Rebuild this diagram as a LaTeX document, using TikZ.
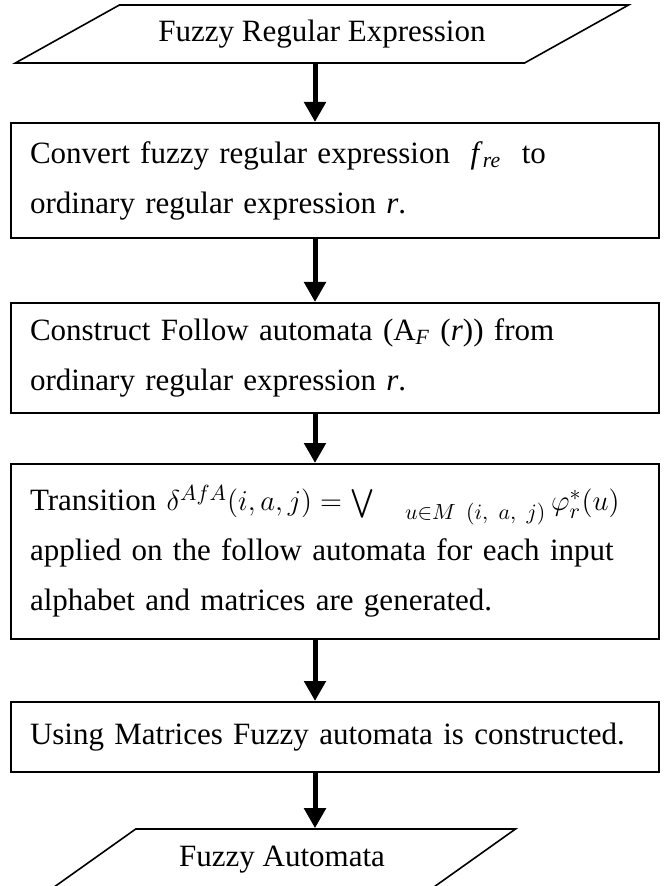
\documentclass[tikz,border=0pt]{standalone}
\usepackage{amsmath}
\usepackage{fontspec}
\setmainfont{Liberation Serif}
\usepackage{tikz}
\usetikzlibrary{positioning, shapes.geometric, arrows.meta}
\tikzstyle{io} = [trapezium, trapezium stretches=true, text centered, draw=black, line width=0.8pt]
\tikzstyle{process} = [rectangle, minimum width=324pt, text width=305pt, inner xsep=9.5pt, align=left, draw=black, line width=1pt]
\tikzstyle{arrow} = [-{Triangle[width=10.5pt,length=10pt]}, line width=2.5pt]
\tikzstyle{every node}=[font=\fontsize{15.5pt}{25pt}\selectfont]

\begin{document}
\begin{tikzpicture}[node distance=90pt]
    \useasboundingbox (0,0) rectangle (335.5pt,-443pt);
    \clip (0,0) rectangle (335.5pt,-443pt);
    % shapes of the flow
    \node (in) [io, trapezium left angle=25.4, trapezium right angle=154.6, minimum width=307pt, minimum height=29pt] at (161pt,-17pt) {Fuzzy Regular Expression};
    \node (conv) [process, minimum height=57.5pt, below of = in, xshift=6.5pt, yshift=16.75pt] {Convert fuzzy regular expression\ \ \textit{f}\textsubscript{\textit{re}}\ \ to\\ordinary regular expression \textit{r}.};
    \node (follow) [process, minimum height=55pt, below of = conv, yshift=1.25pt] {Construct Follow automata (A\textsubscript{\textit{F}} (\textit{r})) from\\ordinary regular expression \textit{r}.};
    \node (trans) [process, minimum height=87.5pt, below of = follow, yshift=-6.75pt] {\mbox{Transition $\delta^{AfA}(i,a,j)=\bigvee\nolimits_{\quad u\in M\ (i,\ a,\ j)}\varphi^{*}_{r}(u)$}\\applied on the follow automata for each input\\alphabet and matrices are generated.};
    \node (build) [process, minimum height=35pt, below of = trans, yshift=-2.75pt] {\mbox{Using Matrices Fuzzy automata is constructed.}};
    \node (out) [io, trapezium left angle=31.8, trapezium right angle=148.2, minimum width=234pt, minimum height=31pt, below of = build, xshift=-26.5pt, yshift=28.5pt] {Fuzzy Automata};

    % arrows
    \coordinate (axis) at (157.5pt,0);
    \draw [arrow] (in.south -| axis) -- (conv.north -| axis);
    \draw [arrow] (conv.south -| axis) -- (follow.north -| axis);
    \draw [arrow] (follow.south -| axis) -- (trans.north -| axis);
    \draw [arrow] (trans.south -| axis) -- (build.north -| axis);
    \draw [arrow] (build.south -| axis) -- (out.north -| axis);
\end{tikzpicture}
\end{document}
